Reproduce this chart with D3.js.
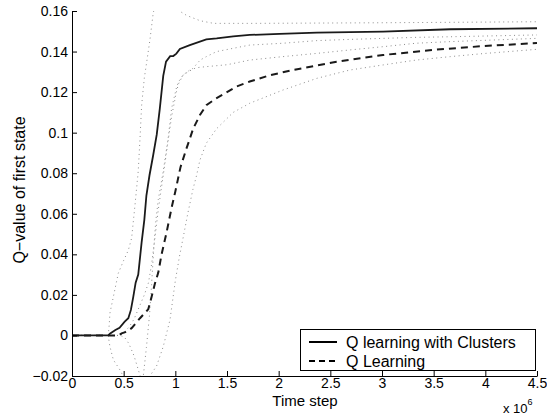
<!DOCTYPE html>
<html>
<head>
<meta charset="utf-8">
<script src="https://cdn.jsdelivr.net/npm/d3@7"></script>
<style>
  body { margin: 0; background: #fff; }
  svg { display: block; font-family: "Liberation Sans", Arial, sans-serif; }
</style>
</head>
<body>
<svg id="chart" width="547" height="418"></svg>
<script>
// time step in millions, value
const clusterMean = [[0,0],[0.35,0],[0.37,0.001],[0.42,0.0027],[0.46,0.0038],[0.51,0.0068],[0.545,0.0085],[0.57,0.0126],[0.593,0.019],[0.616,0.026],[0.641,0.030],[0.674,0.046],[0.70,0.057],[0.72,0.069],[0.75,0.079],[0.786,0.089],[0.82,0.099],[0.85,0.112],[0.883,0.128],[0.91,0.135],[0.95,0.1377],[0.98,0.1378],[1.01,0.139],[1.044,0.1413],[1.14,0.1432],[1.30,0.146],[1.40,0.1465],[1.56,0.1475],[1.72,0.1482],[2.01,0.1487],[2.37,0.1493],[3.01,0.1498],[3.66,0.151],[4.5,0.1515]]
const clusterUpper = [[0,0],[0.35,0],[0.36,0.005],[0.367,0.011],[0.40,0.019],[0.448,0.0307],[0.50,0.037],[0.545,0.042],[0.577,0.048],[0.609,0.064],[0.641,0.081],[0.658,0.097],[0.674,0.1136],[0.70,0.127],[0.722,0.1345],[0.754,0.1457],[0.786,0.159],[0.82,0.166],[0.9,0.169],[0.98,0.165],[1.03,0.1603],[1.11,0.1578],[1.24,0.1552],[1.37,0.1539],[1.75,0.1539],[3.0,0.1542],[4.5,0.1547]]
const clusterLower = [[0,0],[0.35,0],[0.367,-0.0055],[0.40,-0.012],[0.464,-0.017],[0.50,-0.0205],[0.57,-0.024],[0.64,-0.023],[0.69,-0.02],[0.72,-0.006],[0.75,0.01],[0.77,0.025],[0.79,0.042],[0.81,0.056],[0.835,0.067],[0.883,0.081],[0.93,0.097],[0.964,0.112],[1.01,0.122],[1.03,0.125],[1.076,0.1285],[1.14,0.1309],[1.17,0.1317],[1.24,0.1358],[1.30,0.1375],[1.40,0.140],[1.56,0.1416],[1.72,0.1432],[2.04,0.1441],[2.37,0.1454],[2.69,0.146],[3.01,0.1465],[3.33,0.147],[3.66,0.1473],[4.5,0.1482]]
const qMean = [[0,0],[0.45,0],[0.48,0.001],[0.53,0.0019],[0.577,0.0036],[0.658,0.0085],[0.738,0.0129],[0.77,0.019],[0.803,0.0257],[0.835,0.031],[0.867,0.040],[0.916,0.051],[0.964,0.063],[1.0,0.071],[1.05,0.083],[1.1,0.091],[1.173,0.102],[1.238,0.1087],[1.30,0.1135],[1.383,0.1165],[1.48,0.1194],[1.59,0.1227],[1.72,0.1252],[1.92,0.1284],[2.14,0.1309],[2.56,0.135],[3.01,0.1383],[3.49,0.1408],[3.98,0.1427],[4.5,0.1442]]
const qUpper = [[0,0],[0.47,0],[0.5,0.0015],[0.55,0.004],[0.6,0.008],[0.65,0.014],[0.7,0.02],[0.74,0.026],[0.77,0.035],[0.80,0.047],[0.835,0.062],[0.883,0.079],[0.93,0.096],[0.964,0.108],[1.01,0.12],[1.03,0.124],[1.076,0.1285],[1.14,0.1305],[1.2,0.132],[1.286,0.1325],[1.5,0.1335],[1.72,0.1358],[2.04,0.1375],[2.37,0.1391],[2.69,0.1408],[3.01,0.1424],[3.33,0.1441],[3.66,0.1449],[4.5,0.1465]]
const qLower = [[0,0],[0.47,0],[0.51,-0.001],[0.55,-0.004],[0.6,-0.01],[0.66,-0.02],[0.7,-0.024],[0.754,-0.02],[0.819,-0.015],[0.883,-0.0055],[0.948,0.0076],[1.0,0.027],[1.04,0.039],[1.09,0.052],[1.12,0.060],[1.17,0.072],[1.206,0.079],[1.238,0.0865],[1.30,0.0948],[1.40,0.102],[1.56,0.110],[1.72,0.1145],[2.04,0.121],[2.37,0.1268],[2.69,0.1309],[3.01,0.1334],[3.33,0.1358],[3.66,0.1375],[3.98,0.139],[4.5,0.1411]]

const xTicks = [0,0.5,1,1.5,2,2.5,3,3.5,4,4.5]
const xTickLabels = ["0","0.5","1","1.5","2","2.5","3","3.5","4","4.5"]
const yTicks = [-0.02,0,0.02,0.04,0.06,0.08,0.1,0.12,0.14,0.16]
const yTickLabels = ["\u22120.02","0","0.02","0.04","0.06","0.08","0.1","0.12","0.14","0.16"]
const legendNames = ["Q learning with Clusters","Q Learning"]

const margin = { top: 11, right: 10, bottom: 42, left: 72 }
const width = 547, height = 418
const plotW = width - margin.left - margin.right
const plotH = height - margin.top - margin.bottom

const svg = d3.select("#chart")

const x = d3.scaleLinear().domain([0, 4.5]).range([margin.left, margin.left + plotW])
const y = d3.scaleLinear().domain([-0.02, 0.16]).range([margin.top + plotH, margin.top])

svg.append("clipPath").attr("id", "plotclip")
  .append("rect")
  .attr("x", margin.left).attr("y", margin.top)
  .attr("width", plotW).attr("height", plotH)

const line = d3.line().x(d => x(d[0])).y(d => y(d[1]))

const plot = svg.append("g").attr("clip-path", "url(#plotclip)")

// std bands, dotted grey
;[clusterUpper, clusterLower, qUpper, qLower].forEach(s => {
  plot.append("path")
    .attr("d", line(s))
    .attr("fill", "none")
    .attr("stroke", "#8c8c8c")
    .attr("stroke-width", 1)
    .attr("stroke-dasharray", "1,3.5")
})

plot.append("path")
  .attr("d", line(qMean))
  .attr("fill", "none")
  .attr("stroke", "#1a1a1a")
  .attr("stroke-width", 2)
  .attr("stroke-dasharray", "7,5")

plot.append("path")
  .attr("d", line(clusterMean))
  .attr("fill", "none")
  .attr("stroke", "#1a1a1a")
  .attr("stroke-width", 1.8)

// axes
const xAxis = svg.append("g")
  .attr("transform", `translate(0,${margin.top + plotH})`)
  .call(d3.axisBottom(x).tickValues(xTicks).tickFormat((d, i) => xTickLabels[i]).tickSizeInner(-5).tickSizeOuter(0).tickPadding(2))
const yAxis = svg.append("g")
  .attr("transform", `translate(${margin.left},0)`)
  .call(d3.axisLeft(y).tickValues(yTicks).tickFormat((d, i) => yTickLabels[i]).tickSizeInner(-5).tickSizeOuter(0).tickPadding(4))

;[xAxis, yAxis].forEach(a => {
  a.selectAll("text").style("font-size", "14px").attr("fill", "#000")
    .style("font-family", "'Liberation Sans', Arial, sans-serif")
  a.selectAll("line").attr("stroke", "#000")
  a.select(".domain").attr("stroke", "#000")
})
xAxis.selectAll("text").attr("dy", "0.71em")

svg.append("text")
  .attr("x", 305).attr("y", 406)
  .attr("text-anchor", "middle")
  .style("font-size", "15px")
  .text("Time step")

const mult = svg.append("text")
  .attr("x", 503).attr("y", 413)
  .style("font-size", "13px")
mult.append("tspan").text("x 10")
mult.append("tspan").attr("dy", -8).style("font-size", "9px").text("6")

svg.append("text")
  .attr("transform", `translate(25,190) rotate(-90)`)
  .attr("text-anchor", "middle")
  .style("font-size", "16px")
  .text("Q\u2212value of first state")

// legend
const legend = svg.append("g")
legend.append("rect")
  .attr("x", 300.5).attr("y", 329.5)
  .attr("width", 235).attr("height", 41)
  .attr("fill", "#fff").attr("stroke", "#000")

legendNames.forEach((name, i) => {
  const ly = 342 + i * 19
  legend.append("line")
    .attr("x1", 309).attr("x2", 337)
    .attr("y1", ly).attr("y2", ly)
    .attr("stroke", "#000").attr("stroke-width", 2)
    .attr("stroke-dasharray", i === 1 ? "6,4" : null)
  legend.append("text")
    .attr("x", 346).attr("y", ly + 6)
    .style("font-size", "16px")
    .text(name)
})
</script>
</body>
</html>
